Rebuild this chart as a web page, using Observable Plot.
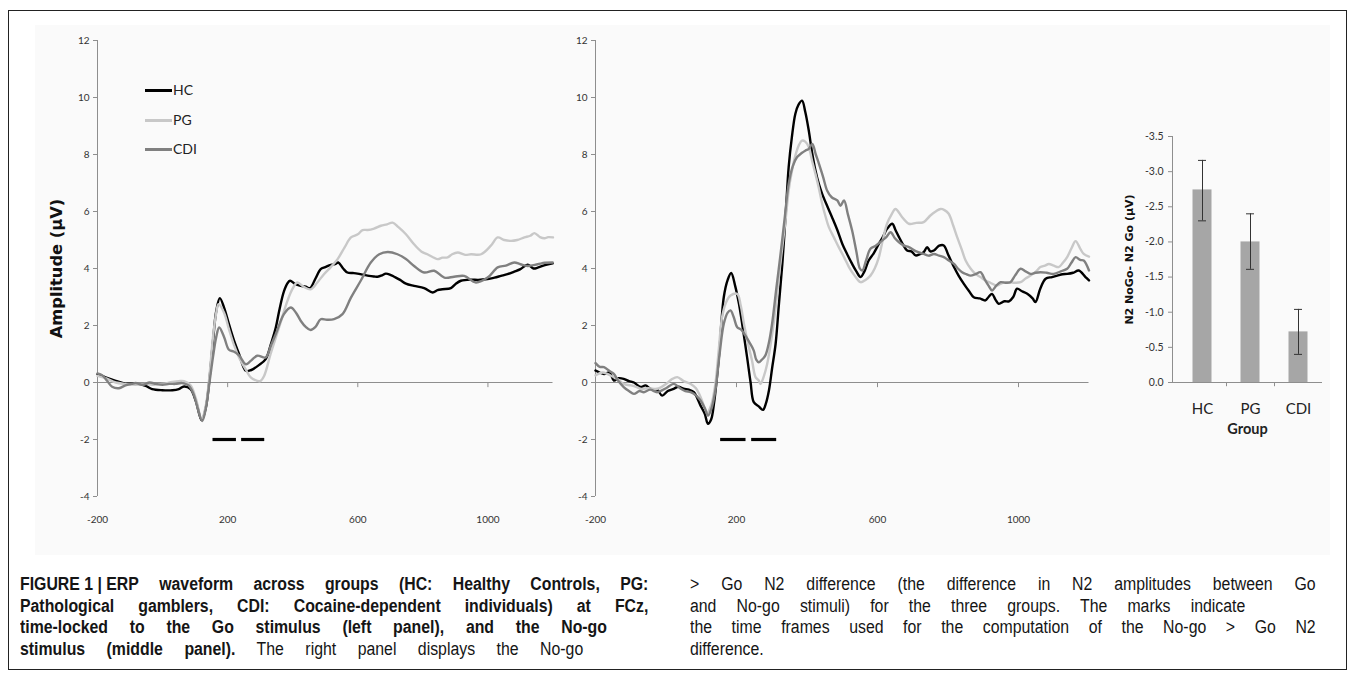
<!DOCTYPE html>
<html>
<head>
<meta charset="utf-8">
<script src="https://cdn.jsdelivr.net/npm/d3@7"></script>
<script src="https://cdn.jsdelivr.net/npm/@observablehq/plot@0.6"></script>
<style>
  html, body { margin: 0; padding: 0; background: #fff; }
  #fig { position: relative; width: 1355px; height: 674px; overflow: hidden; font-family: Lato, "Open Sans", sans-serif; }
  #frame { position: absolute; left: 8px; top: 10px; width: 1339px; height: 660px; border: 1.5px solid #222; box-sizing: border-box; }
  #bg { position: absolute; left: 35px; top: 25px; width: 1295px; height: 530px; background: #fafafa; }
  .panel { position: absolute; top: 0; }
  .legend { position: absolute; left: 145px; top: 80px; font-size: 14px; color: #222; }
  .legend .item { position: relative; height: 29.5px; }
  .legend .sw { position: absolute; left: 0; top: 9px; width: 27px; height: 3px; }
  .legend .lb { position: absolute; left: 28px; top: 0; line-height: 20px; }
  .cap { position: absolute; transform: scaleX(0.88); transform-origin: 0 0; font-family: "Liberation Sans", Arial, sans-serif; font-size: 18px; line-height: 21.7px; color: #151515; }
  .cap div { white-space: nowrap; }
  .cap div.j { white-space: normal; text-align: justify; text-align-last: justify; }
  .cap .nb { display: inline-block; white-space: pre; }
</style>
</head>
<body>
<div id="fig">
  <div id="frame"></div>
  <div id="bg"></div>
  <div id="left" class="panel" style="left:0px"></div>
  <div id="middle" class="panel" style="left:500px"></div>
  <div id="right" class="panel" style="left:1090px"></div>
  <div class="legend" id="legend"></div>
  <div class="cap" style="left:20px; top:574px;">
    <div class="j" style="width:714px"><b><span class="nb">FIGURE 1 | ERP</span> waveform across groups (HC: Healthy Controls, PG:</b></div>
    <div class="j" style="width:714px"><b>Pathological gamblers, CDI: Cocaine-dependent individuals) at FCz,</b></div>
    <div class="j" style="width:667px"><b>time-locked to the Go stimulus (left panel), and the No-go</b></div>
    <div class="j" style="width:640px"><b>stimulus (middle panel).</b> The right panel displays the No-go</div>
  </div>
  <div class="cap" style="left:690px; top:574px;">
    <div class="j" style="width:711px">&gt; Go N2 difference (the difference in N2 amplitudes between Go</div>
    <div class="j" style="width:631px">and No-go stimuli) for the three groups. The marks indicate</div>
    <div class="j" style="width:711px">the time frames used for the computation of the No-go &gt; Go N2</div>
    <div>difference.</div>
  </div>
</div>
<script>
// ---------- data ----------
const groups = ["HC", "PG", "CDI"];
const groupColors = ["#000000", "#c8c8c8", "#808080"];
const xTicks = [-200, 200, 600, 1000];
const yTicks = [-4, -2, 0, 2, 4, 6, 8, 10, 12];
const markStart = [155, 243];
const markEnd = [227, 314];
const markLevel = -2;

// Go stimulus (left panel): [time ms, amplitude µV]
const goHC = [[-200,0.29],[-175,0.18],[-144,0.06],[-114,-0.04],[-83,-0.04],[-52,-0.12],[-32,-0.23],[-1,-0.27],[30,-0.27],[50,-0.23],[66,-0.14],[86,-0.23],[102,-0.64],[120,-1.32],[133,-0.88],[143,0],[155,1.46],[165,2.51],[176,2.96],[189,2.63],[204,2.05],[220,1.46],[235,1.0],[256,0.41],[271,0.43],[295,0.6],[317,0.82],[333,1.35],[348,1.93],[360,2.6],[373,3.2],[385,3.5],[392,3.57],[408,3.45],[425,3.39],[440,3.36],[453,3.31],[470,3.65],[486,3.98],[500,4.05],[517,4.13],[530,4.15],[540,4.21],[555,4.0],[568,3.86],[585,3.84],[599,3.82],[617,3.78],[635,3.74],[650,3.72],[661,3.71],[675,3.76],[686,3.82],[700,3.78],[712,3.71],[730,3.6],[748,3.47],[773,3.39],[804,3.31],[830,3.16],[845,3.24],[860,3.27],[886,3.31],[900,3.45],[917,3.57],[948,3.61],[970,3.6],[999,3.63],[1020,3.68],[1040,3.74],[1060,3.8],[1081,3.89],[1100,3.98],[1122,4.13],[1140,4.0],[1153,4.03],[1175,4.12],[1199,4.18]];
const goPG = [[-200,0.23],[-175,0.15],[-144,0.0],[-114,-0.05],[-83,-0.08],[-52,-0.05],[-32,-0.08],[-1,-0.05],[30,0.02],[50,0.05],[66,0.05],[86,-0.1],[102,-0.55],[120,-1.28],[133,-0.8],[143,0.1],[155,1.6],[165,2.45],[172,2.75],[189,2.45],[204,1.87],[220,1.3],[235,0.88],[256,0.45],[271,0.18],[291,0.06],[300,0.05],[312,0.23],[332,1.0],[358,1.93],[384,2.87],[400,3.3],[414,3.51],[435,3.35],[455,3.27],[475,3.5],[496,3.8],[517,4.05],[538,4.33],[560,4.75],[579,5.09],[600,5.2],[615,5.35],[630,5.35],[650,5.4],[671,5.5],[690,5.55],[707,5.61],[725,5.45],[748,5.2],[773,4.85],[795,4.6],[814,4.5],[845,4.33],[860,4.38],[876,4.39],[890,4.5],[907,4.56],[930,4.48],[948,4.5],[979,4.5],[1009,4.8],[1030,5.09],[1050,5.0],[1071,4.97],[1090,5.0],[1112,5.09],[1130,5.15],[1143,5.24],[1160,5.1],[1174,5.06],[1185,5.1],[1200,5.09]];
const goCDI = [[-200,0.32],[-185,0.25],[-170,0.05],[-155,-0.15],[-134,-0.2],[-114,-0.1],[-95,-0.05],[-83,-0.02],[-60,-0.08],[-40,0.0],[-20,-0.05],[0,-0.08],[20,-0.05],[40,-0.05],[60,-0.02],[80,-0.1],[95,-0.4],[108,-0.9],[122,-1.35],[133,-0.9],[143,-0.1],[155,0.9],[165,1.6],[174,1.93],[189,1.6],[204,1.15],[220,1.08],[235,0.95],[256,0.64],[271,0.76],[291,0.94],[317,0.88],[333,1.3],[348,1.7],[373,2.4],[394,2.63],[410,2.45],[425,2.16],[440,1.95],[455,1.84],[470,1.95],[486,2.22],[505,2.2],[527,2.22],[553,2.4],[579,2.98],[609,3.57],[640,4.21],[666,4.5],[692,4.58],[722,4.5],[748,4.33],[773,4.09],[804,3.86],[835,3.92],[866,3.68],[896,3.71],[927,3.74],[963,3.51],[999,3.68],[1030,4.04],[1055,4.1],[1081,4.21],[1100,4.15],[1122,4.09],[1153,4.15],[1175,4.2],[1199,4.21]];

// No-go stimulus (middle panel): [time ms, amplitude µV]
const nogoHC = [[-200,0.42],[-176,0.3],[-160,0.35],[-148,0.07],[-135,0.15],[-120,0.13],[-105,0.05],[-91,0.0],[-72,-0.16],[-58,-0.1],[-44,-0.22],[-25,-0.25],[-11,-0.46],[5,-0.3],[22,-0.22],[35,-0.15],[50,-0.22],[65,-0.25],[79,-0.34],[98,-0.81],[110,-1.1],[119,-1.45],[128,-1.3],[136,-0.75],[150,0.89],[164,3.0],[175,3.6],[185,3.84],[196,3.4],[207,2.76],[218,1.9],[230,0.89],[240,0.0],[249,-0.69],[263,-0.84],[275,-0.96],[283,-0.75],[292,-0.28],[301,0.5],[311,1.36],[320,2.7],[330,4.16],[340,6.0],[348,7.56],[357,8.6],[367,9.43],[376,9.75],[386,9.89],[395,9.5],[405,8.84],[414,8.1],[424,7.44],[434,6.95],[443,6.62],[457,6.2],[471,5.8],[486,5.35],[500,4.87],[514,4.5],[528,4.16],[540,3.9],[552,3.7],[563,3.9],[575,4.28],[590,4.55],[604,4.87],[615,5.1],[627,5.39],[642,5.57],[651,5.35],[661,5.1],[672,4.85],[684,4.63],[696,4.6],[708,4.46],[720,4.5],[731,4.57],[741,4.75],[750,4.6],[760,4.63],[775,4.8],[788,4.81],[800,4.5],[817,4.05],[830,3.75],[845,3.46],[860,3.2],[873,2.99],[890,2.95],[906,2.88],[915,3.0],[925,3.11],[935,2.9],[944,2.76],[960,2.85],[973,2.85],[985,3.0],[996,3.29],[1010,3.2],[1025,3.11],[1040,2.95],[1048,2.82],[1062,3.3],[1077,3.64],[1095,3.7],[1110,3.75],[1125,3.8],[1138,3.81],[1155,3.85],[1171,3.93],[1190,3.7],[1200,3.58]];
const nogoPG = [[-200,0.25],[-180,0.35],[-167,0.3],[-150,0.2],[-135,0.1],[-120,-0.05],[-100,-0.1],[-85,-0.15],[-72,-0.22],[-50,-0.2],[-25,-0.22],[0,-0.05],[15,0.1],[32,0.19],[50,0.05],[70,-0.05],[85,-0.2],[98,-0.51],[117,-1.04],[128,-0.8],[140,-0.05],[150,1.2],[159,2.29],[170,2.8],[183,3.05],[202,3.11],[212,2.7],[221,2.06],[232,1.4],[244,0.77],[254,0.19],[263,0.07],[268,-0.05],[277,0.2],[287,0.65],[300,1.6],[311,2.64],[320,3.7],[330,4.75],[340,5.8],[348,6.74],[357,7.4],[367,7.96],[376,8.3],[386,8.49],[395,8.45],[405,8.26],[414,7.8],[424,7.32],[434,6.8],[443,6.27],[452,5.85],[462,5.45],[476,5.1],[490,4.75],[505,4.4],[519,4.05],[535,3.75],[552,3.52],[566,3.6],[580,3.75],[592,4.0],[604,4.4],[615,5.0],[627,5.57],[640,5.9],[651,6.09],[670,5.8],[689,5.57],[710,5.6],[731,5.63],[750,5.86],[765,6.0],[779,6.09],[790,6.05],[802,5.92],[815,5.5],[826,5.1],[838,4.7],[850,4.28],[864,4.0],[878,3.81],[892,3.7],[906,3.58],[920,3.5],[939,3.4],[955,3.5],[973,3.52],[990,3.5],[1006,3.52],[1020,3.65],[1034,3.75],[1050,3.9],[1062,4.05],[1075,4.1],[1086,4.16],[1100,4.1],[1114,4.05],[1126,4.2],[1138,4.4],[1150,4.7],[1162,4.96],[1175,4.7],[1185,4.51],[1200,4.42]];
const nogoCDI = [[-200,0.68],[-188,0.55],[-176,0.54],[-160,0.4],[-148,0.3],[-135,0.05],[-120,-0.16],[-105,-0.3],[-91,-0.4],[-75,-0.3],[-63,-0.34],[-45,-0.25],[-25,-0.34],[0,-0.2],[22,-0.05],[40,-0.2],[55,-0.3],[70,-0.34],[85,-0.45],[98,-0.63],[110,-0.9],[119,-1.16],[128,-0.95],[140,-0.28],[152,1.0],[164,2.06],[175,2.45],[183,2.53],[192,2.3],[202,1.94],[214,1.85],[225,1.65],[237,1.4],[249,1.12],[256,0.8],[263,0.71],[272,0.8],[282,0.95],[292,1.4],[301,2.06],[313,3.3],[325,4.51],[337,5.8],[348,6.97],[360,7.6],[372,7.91],[385,8.05],[396,8.14],[405,8.2],[415,8.37],[425,8.0],[434,7.67],[446,7.2],[457,6.74],[470,6.5],[486,6.39],[495,6.2],[505,6.39],[516,5.9],[528,5.33],[540,4.6],[550,4.0],[557,3.93],[568,4.3],[580,4.69],[595,4.8],[613,4.98],[625,5.1],[637,5.27],[650,5.05],[661,4.92],[675,4.8],[689,4.75],[710,4.6],[731,4.51],[745,4.45],[760,4.51],[775,4.45],[788,4.4],[800,4.3],[817,4.16],[828,4.0],[840,3.87],[852,3.8],[864,3.75],[878,3.8],[892,3.87],[905,3.6],[915,3.4],[925,3.23],[937,3.4],[949,3.52],[963,3.5],[977,3.52],[990,3.75],[1006,3.99],[1020,3.9],[1034,3.81],[1048,3.85],[1062,3.87],[1080,3.85],[1100,3.81],[1120,3.9],[1138,3.99],[1150,4.2],[1162,4.4],[1175,4.3],[1185,4.28],[1200,3.93]];

// Right panel: No-go minus Go N2 difference (µV)
const barValues = [-2.74, -2.0, -0.72];
const barErrUpper = [-3.16, -2.40, -1.04];
const barErrLower = [-2.30, -1.61, -0.40];
const barTicks = [0, -0.5, -1.0, -1.5, -2.0, -2.5, -3.0, -3.5];

// ---------- helpers ----------
function toRows(seriesList) {
  const rows = [];
  seriesList.forEach((pts, i) => pts.forEach(([t, v]) => rows.push({t, v, g: groups[i]})));
  return rows;
}
const marks = markStart.map((s, i) => ({s, e: markEnd[i], y: markLevel}));
const axisGray = "#8e8e8e";
const baseStyle = {background: "transparent", fontFamily: "Lato, 'Open Sans', sans-serif", fontSize: "10px", color: "#333", overflow: "visible"};

function erpPanel(rows, opts) {
  return Plot.plot({
    width: opts.width, height: 536,
    marginLeft: opts.marginLeft, marginRight: opts.marginRight, marginTop: 40, marginBottom: 40,
    style: baseStyle,
    x: {domain: [-200, 1200]},
    y: {domain: [-4, 12]},
    color: {domain: groups, range: groupColors},
    marks: [
      Plot.ruleX([-200], {stroke: axisGray}),
      Plot.ruleY([0], {stroke: axisGray}),
      Plot.ruleX(xTicks.slice(1), {y1: 0, y2: -0.18, stroke: axisGray}),
      Plot.axisY({ticks: yTicks, tickSize: 4, tickPadding: 4, stroke: axisGray, tickFormat: d => String(d), label: null}),
      Plot.axisX({ticks: xTicks, tickSize: 0, tickPadding: 19, tickFormat: d => String(d), label: null}),
      Plot.line(rows, {x: "t", y: "v", z: "g", stroke: "g", strokeWidth: 2.4, strokeLinejoin: "round", curve: "catmull-rom"}),
      Plot.ruleY(marks, {x1: "s", x2: "e", y: "y", stroke: "#000", strokeWidth: 3.2}),
      ...(opts.title ? [Plot.text([opts.title], {frameAnchor: "left", textAnchor: "middle", dx: -41, rotate: -90, fontSize: 16.3, fontWeight: "bold", fill: "#111", fontFamily: "'DejaVu Sans', sans-serif"})] : [])
    ]
  });
}

document.getElementById("left").append(erpPanel(toRows([goHC, goPG, goCDI]), {width: 560, marginLeft: 97, marginRight: 7.5, title: "Amplitude (µV)"}));
document.getElementById("middle").append(erpPanel(toRows([nogoHC, nogoPG, nogoCDI]), {width: 595, marginLeft: 95, marginRight: 6.5}));

// bar chart
const barRows = groups.map((g, i) => ({g, v: barValues[i], hi: barErrUpper[i], lo: barErrLower[i]}));
const bar = Plot.plot({
  width: 240, height: 452,
  marginLeft: 82, marginRight: 8, marginTop: 136, marginBottom: 70,
  style: {...baseStyle, fontSize: "10.5px"},
  x: {domain: groups, padding: 0, insetLeft: 6},
  y: {domain: [0, -3.5]},
  marks: [
    Plot.barY(barRows, {x: "g", y: "v", fill: "#a6a6a6", insetLeft: 14.5, insetRight: 14.5}),
    Plot.ruleX(barRows, {x: "g", y1: "lo", y2: "hi", stroke: "#333", strokeWidth: 1}),
    Plot.tickY(barRows, {x: "g", y: "hi", stroke: "#333", insetLeft: 20, insetRight: 20}),
    Plot.tickY(barRows, {x: "g", y: "lo", stroke: "#333", insetLeft: 20, insetRight: 20}),
    Plot.frame({anchor: "left", stroke: axisGray}),
    Plot.ruleY([0], {stroke: axisGray}),
    Plot.ruleX(groups.slice(0, 2), {x: d => d, y1: 0, y2: 0.06, dx: 24, stroke: axisGray}),
    Plot.axisY({ticks: barTicks, tickSize: 4, tickPadding: 5, stroke: axisGray, tickFormat: d => d.toFixed(1), label: null}),
    Plot.axisX({tickSize: 0, tickPadding: 21, fontSize: 15, label: null, fill: "#222"}),
    Plot.text(["Group"], {frameAnchor: "bottom", dy: 51, fontSize: 14.5, fontWeight: "bold", fill: "#222", fontFamily: "Lato, sans-serif"}),
    Plot.text(["N2 NoGo- N2 Go (µV)"], {frameAnchor: "left", textAnchor: "middle", dx: -43, rotate: -90, fontSize: 11, fontWeight: "bold", fill: "#111", fontFamily: "'DejaVu Sans', sans-serif"})
  ]
});
document.getElementById("right").append(bar);

// legend
const leg = document.getElementById("legend");
groups.forEach((g, i) => {
  const item = document.createElement("div");
  item.className = "item";
  item.innerHTML = `<span class="sw" style="background:${groupColors[i]}"></span><span class="lb">${g}</span>`;
  leg.append(item);
});
</script>
</body>
</html>
